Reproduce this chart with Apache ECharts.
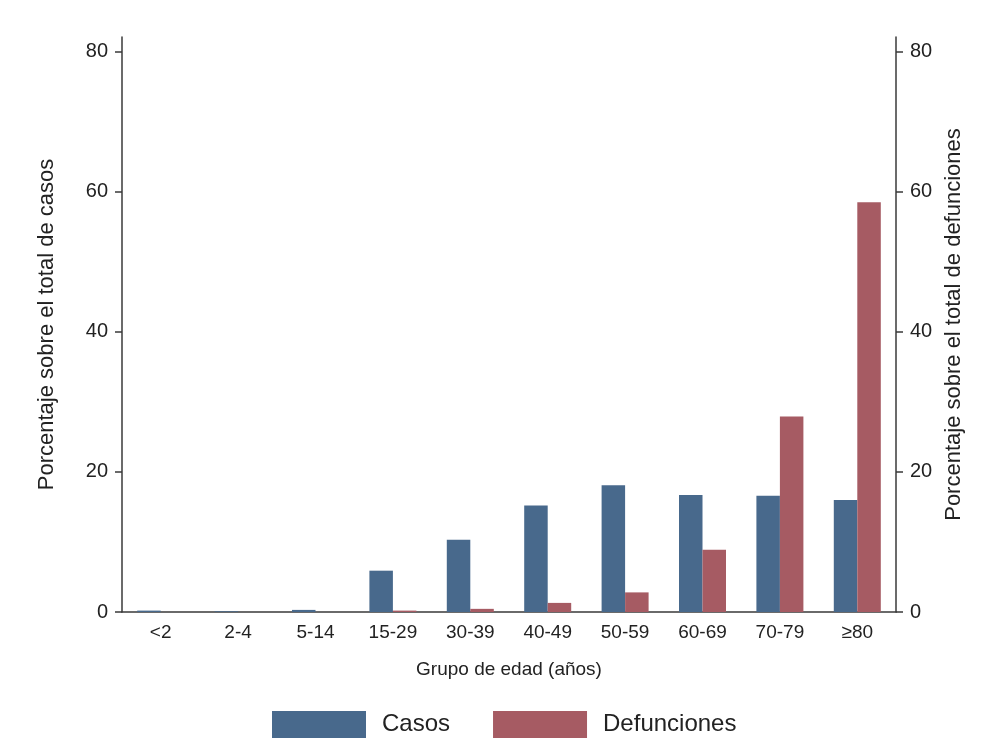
<!DOCTYPE html>
<html>
<head>
<meta charset="utf-8">
<script src="https://cdn.jsdelivr.net/npm/echarts@6/dist/echarts.min.js"></script>
<style>html,body{margin:0;padding:0;background:#fff}#c{width:997px;height:740px}</style>
</head>
<body>
<div id="c"></div>
<script>
var categories = ['<2', '2-4', '5-14', '15-29', '30-39', '40-49', '50-59', '60-69', '70-79', '≥80'];
var casos = [0.2, 0.1, 0.3, 5.9, 10.3, 15.2, 18.1, 16.7, 16.6, 16.0];
var defunciones = [0, 0, 0, 0.2, 0.45, 1.3, 2.8, 8.9, 27.9, 58.5];
var yTicks = [0, 20, 40, 60, 80];

var font = '"Liberation Sans", Arial, sans-serif';
var chart = echarts.init(document.getElementById('c'), null, {renderer: 'canvas'});
var axisLineStyle = {color: '#3a3a3a', width: 1.5};
function yAxisDef(name, pos, gap) {
  return {
    type: 'value', position: pos, min: 0, max: 82.1,
    name: name, nameLocation: 'middle', nameRotate: 90, nameGap: gap,
    nameTextStyle: {fontFamily: font, fontSize: 22, color: '#222'},
    axisLine: {show: true, lineStyle: axisLineStyle},
    axisTick: {show: true, length: 7, lineStyle: axisLineStyle, customValues: yTicks},
    axisLabel: {fontFamily: font, fontSize: 20, color: '#222', margin: 14, customValues: yTicks},
    splitLine: {show: false}
  };
}
chart.setOption({
  backgroundColor: '#fff',
  animation: false,
  grid: {left: 122, right: 101, top: 37, bottom: 128},
  legend: {
    left: 267, top: 706, itemWidth: 94, itemHeight: 27, itemGap: 43,
    icon: 'rect',
    textStyle: {fontFamily: font, fontSize: 24, color: '#222', padding: [0, 0, 0, 11]},
    data: ['Casos', 'Defunciones']
  },
  xAxis: {
    type: 'category', data: categories,
    name: 'Grupo de edad (años)', nameLocation: 'middle', nameGap: 48,
    nameTextStyle: {fontFamily: font, fontSize: 19, color: '#222'},
    axisLine: {show: true, lineStyle: axisLineStyle},
    axisTick: {show: false},
    axisLabel: {fontFamily: font, fontSize: 19, color: '#222', margin: 11, interval: 0}
  },
  yAxis: [
    yAxisDef('Porcentaje sobre el total de casos', 'left', 64),
    yAxisDef('Porcentaje sobre el total de defunciones', 'right', 46)
  ],
  series: [
    {name: 'Casos', type: 'bar', yAxisIndex: 0, data: casos, barWidth: 23.5, barGap: '0%',
     itemStyle: {color: '#48698c'}},
    {name: 'Defunciones', type: 'bar', yAxisIndex: 1, data: defunciones, barWidth: 23.5, barGap: '0%',
     itemStyle: {color: '#a65b63'}}
  ]
});
</script>
</body>
</html>
